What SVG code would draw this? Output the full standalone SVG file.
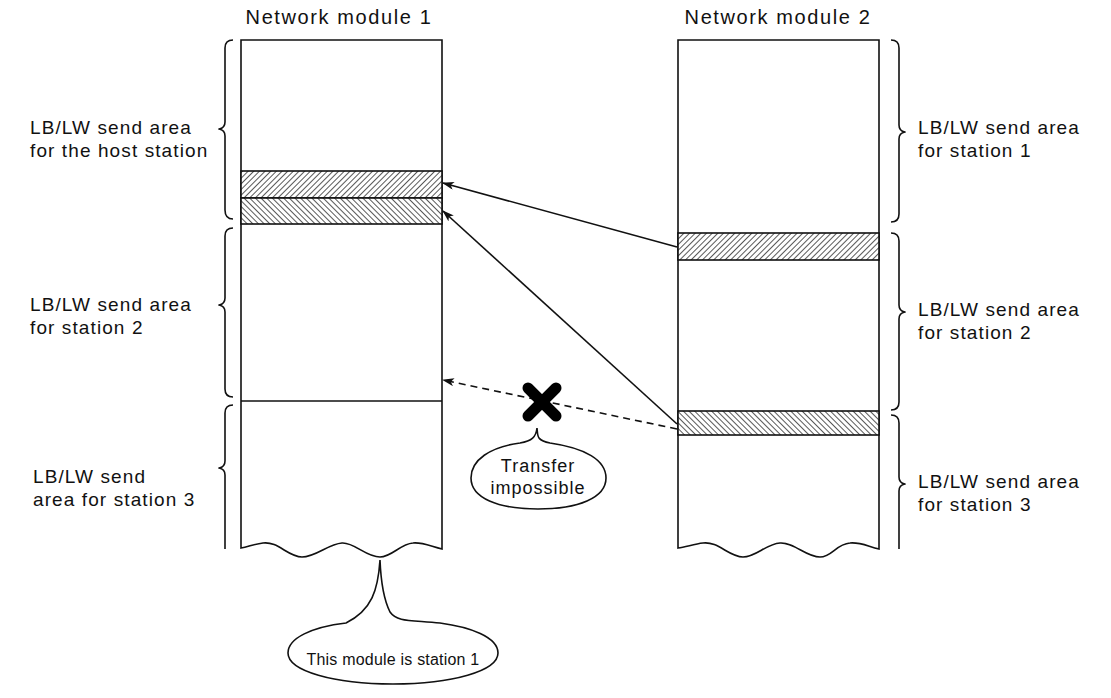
<svg xmlns="http://www.w3.org/2000/svg" width="1111" height="698" viewBox="0 0 1111 698">
  <style>
    .txt { font-family: "Liberation Sans", Arial, sans-serif; font-size: 19px; fill: #111; letter-spacing: 1.1px; }
    .title { font-size: 20px; letter-spacing: 1.6px; }
    .note { font-size: 18px; letter-spacing: 1px; }
    .small { font-size: 16px; letter-spacing: 0.2px; }
    .box { fill: #fff; stroke: #111; stroke-width: 1.6; }
    .ln { fill: none; stroke: #111; stroke-width: 1.6; }
    .brace { fill: none; stroke: #111; stroke-width: 1.6; stroke-linejoin: round; }
    .conn { fill: none; stroke: #111; stroke-width: 1.6; }
  </style>
  <defs>
    <pattern id="hatchF" patternUnits="userSpaceOnUse" width="4" height="4" patternTransform="rotate(45)">
      <rect width="4" height="4" fill="#fff"/>
      <line x1="0" y1="0" x2="0" y2="4" stroke="#111" stroke-width="1.4"/>
    </pattern>
    <pattern id="hatchB" patternUnits="userSpaceOnUse" width="4" height="4" patternTransform="rotate(-45)">
      <rect width="4" height="4" fill="#fff"/>
      <line x1="0" y1="0" x2="0" y2="4" stroke="#111" stroke-width="1.4"/>
    </pattern>
    <marker id="arrow" viewBox="0 0 12 8" refX="11" refY="4" markerWidth="12" markerHeight="8" markerUnits="userSpaceOnUse" orient="auto">
      <path d="M0,0 L12,4 L0,8 L3,4 Z" fill="#111"/>
    </marker>
  </defs>

  <!-- Network module 1 -->
  <g id="module1">
    <text class="txt title" x="339" y="24" text-anchor="middle">Network module 1</text>
    <path class="box" d="M241,40 L442,40 L442,549 C430,546 422,542 413,543 C400,544 392,557 380,557 C366,557 354,542 342,543 C328,544 316,557 302,557 C288,557 278,541 263,543 C254,544 248,547 241,548 Z"/>
    <rect x="241" y="171" width="201" height="27" fill="url(#hatchF)" stroke="#111" stroke-width="1.6"/>
    <rect x="241" y="198" width="201" height="26" fill="url(#hatchB)" stroke="#111" stroke-width="1.6"/>
    <line class="ln" x1="241" y1="401" x2="442" y2="401"/>
  </g>

  <!-- Network module 2 -->
  <g id="module2">
    <text class="txt title" x="778" y="24" text-anchor="middle">Network module 2</text>
    <path class="box" d="M678,40 L879,40 L879,549 C867,546 860,542 850,543 C836,544 832,557 820,557 C806,557 794,542 780,543 C766,544 756,557 743,557 C729,557 718,541 703,543 C694,544 686,547 678,548 Z"/>
    <rect x="678" y="233" width="201" height="27" fill="url(#hatchF)" stroke="#111" stroke-width="1.6"/>
    <rect x="678" y="411" width="201" height="24" fill="url(#hatchB)" stroke="#111" stroke-width="1.6"/>
  </g>

  <!-- Left braces and labels -->
  <g id="left-area-host">
    <path class="brace" d="M233,40 Q225,40 225,48 L225,122 Q225,128 219,129 Q225,130 225,136 L225,210 Q225,219 233,219"/>
    <text class="txt" x="30" y="134">LB/LW send area</text>
    <text class="txt" x="30" y="157">for the host station</text>
  </g>
  <g id="left-area-st2">
    <path class="brace" d="M233,228 Q225,228 225,236 L225,298 Q225,304 219,305 Q225,306 225,312 L225,389 Q225,397 233,397"/>
    <text class="txt" x="30" y="311">LB/LW send area</text>
    <text class="txt" x="30" y="334">for station 2</text>
  </g>
  <g id="left-area-st3">
    <path class="brace" d="M233,405 Q225,405 225,413 L225,461 Q225,467 219,468 Q225,469 225,475 L225,549"/>
    <text class="txt" x="33" y="483">LB/LW send</text>
    <text class="txt" x="33" y="506">area for station 3</text>
  </g>

  <!-- Right braces and labels -->
  <g id="right-area-st1">
    <path class="brace" d="M891,40 Q899,40 899,48 L899,125 Q899,131 905,132 Q899,133 899,139 L899,214 Q899,222 891,222"/>
    <text class="txt" x="918" y="134">LB/LW send area</text>
    <text class="txt" x="918" y="157">for station 1</text>
  </g>
  <g id="right-area-st2">
    <path class="brace" d="M891,233 Q899,233 899,241 L899,305 Q899,311 905,312 Q899,313 899,319 L899,402 Q899,410 891,410"/>
    <text class="txt" x="918" y="316">LB/LW send area</text>
    <text class="txt" x="918" y="339">for station 2</text>
  </g>
  <g id="right-area-st3">
    <path class="brace" d="M891,415 Q899,415 899,423 L899,477 Q899,483 905,484 Q899,485 899,491 L899,549"/>
    <text class="txt" x="918" y="488">LB/LW send area</text>
    <text class="txt" x="918" y="511">for station 3</text>
  </g>

  <!-- Transfers between modules -->
  <g id="connectors">
    <line class="conn" x1="677" y1="247" x2="443" y2="183" marker-end="url(#arrow)"/>
    <line class="conn" x1="677" y1="424" x2="443" y2="211" marker-end="url(#arrow)"/>
    <line class="conn" x1="677" y1="429" x2="443" y2="380" stroke-dasharray="7,5" marker-end="url(#arrow)"/>
  </g>

  <!-- Blocked transfer mark -->
  <g id="blocked">
    <line x1="528" y1="388" x2="556" y2="416" stroke="#000" stroke-width="11" stroke-linecap="round"/>
    <line x1="556" y1="388" x2="528" y2="416" stroke="#000" stroke-width="11" stroke-linecap="round"/>
  </g>

  <!-- Callout: transfer impossible -->
  <g id="callout-impossible">
    <path class="ln" d="M537,428 C538,436 536,440 550,443 C585,448 606,460 606,478 C606,498 578,509 538,509 C498,509 471,498 471,478 C471,460 490,447 520,443 C532,441 536,437 537,428 Z" fill="#fff"/>
    <text class="txt note" x="538" y="472" text-anchor="middle">Transfer</text>
    <text class="txt note" x="538" y="494" text-anchor="middle">impossible</text>
  </g>

  <!-- Callout: this module is station 1 -->
  <g id="callout-station">
    <path class="ln" d="M380,560 C378,590 372,610 346,623 C312,627 288,638 288,653 C288,671 334,684 393,684 C452,684 498,671 498,653 C498,637 470,627 440,623 C410,620 397,622 390,612 C384,600 381,585 380,560 Z" fill="#fff"/>
    <text class="txt small" x="393" y="665" text-anchor="middle">This module is station 1</text>
  </g>
</svg>
